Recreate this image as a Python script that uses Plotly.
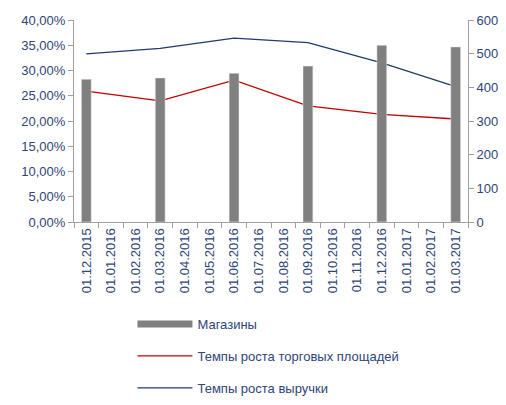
import plotly.graph_objects as go

categories = ["01.12.2015", "01.01.2016", "01.02.2016", "01.03.2016", "01.04.2016",
              "01.05.2016", "01.06.2016", "01.07.2016", "01.08.2016", "01.09.2016",
              "01.10.2016", "01.11.2016", "01.12.2016", "01.01.2017", "01.02.2017",
              "01.03.2017"]
quarter_dates = ["01.12.2015", "01.03.2016", "01.06.2016", "01.09.2016", "01.12.2016", "01.03.2017"]
stores = [424, 428, 442, 463, 525, 520]
area_growth = [25.9, 24.0, 28.1, 23.0, 21.3, 20.4]
revenue_growth = [33.3, 34.4, 36.4, 35.5, 31.5, 26.8]
pct_ticks = [0, 5, 10, 15, 20, 25, 30, 35, 40]
pct_labels = ["0,00%", "5,00%", "10,00%", "15,00%", "20,00%", "25,00%",
              "30,00%", "35,00%", "40,00%"]

txt = "#2E4577"
font = "Liberation Sans, Arial, sans-serif"

fig = go.Figure()
fig.add_trace(go.Bar(x=quarter_dates, y=stores, yaxis="y2", marker_color="#808080",
                     width=0.4, showlegend=False, name="Магазины"))
fig.add_trace(go.Scatter(x=[None], y=[None], mode="lines", name="Магазины",
                         line=dict(color="#808080", width=7), legendgroup="a"))
fig.add_trace(go.Scatter(x=quarter_dates, y=area_growth, mode="lines",
                         name="Темпы роста торговых площадей",
                         line=dict(color="#C00000", width=1.3), legendgroup="b"))
fig.add_trace(go.Scatter(x=quarter_dates, y=revenue_growth, mode="lines",
                         name="Темпы роста выручки",
                         line=dict(color="#1F3A6E", width=1.3), legendgroup="c"))

fig.update_layout(
    width=490, height=389,
    margin=dict(l=66, r=30, t=12, b=175, autoexpand=False),
    paper_bgcolor="white", plot_bgcolor="white",
    font=dict(family=font, color=txt, size=12),
    xaxis=dict(type="category", categoryorder="array", categoryarray=categories,
               range=[-0.5, 15.5], tickson="boundaries", ticks="outside", ticklen=5,
               tickcolor="#A0A0A0", showline=True, linecolor="#A0A0A0", linewidth=1,
               tickangle=-90, showgrid=False, automargin=False,
               tickfont=dict(size=13, color=txt)),
    yaxis=dict(range=[0, 40], tickvals=pct_ticks, ticktext=pct_labels,
               ticks="outside", ticklen=5, tickcolor="#A0A0A0", showline=True,
               linecolor="#A0A0A0", showgrid=False, zeroline=False, automargin=False,
               tickfont=dict(size=13, color=txt)),
    yaxis2=dict(range=[0, 600], dtick=100, overlaying="y", side="right",
                ticks="outside", ticklen=5, tickcolor="#A0A0A0", showline=True,
                linecolor="#A0A0A0", showgrid=False, zeroline=False, automargin=False,
                tickfont=dict(size=13, color=txt)),
    legend=dict(x=0.254, y=0.226, xref="container", yref="container",
                xanchor="left", yanchor="top", orientation="v",
                tracegroupgap=12, itemwidth=55, font=dict(size=13, color=txt),
                bgcolor="rgba(0,0,0,0)"),
)

fig.write_html("out.html")
